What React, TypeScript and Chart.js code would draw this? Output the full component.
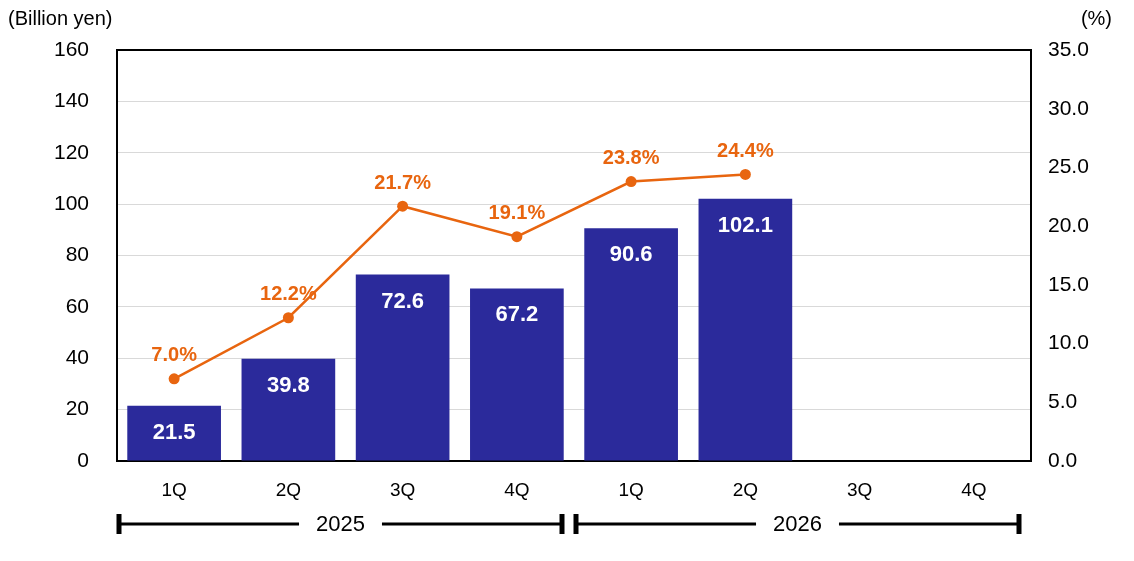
import { Chart, registerables } from "chart.js";
import { useEffect, useRef } from "react";

Chart.register(...registerables);

const QUARTERS = ["1Q", "2Q", "3Q", "4Q", "1Q", "2Q", "3Q", "4Q"];
const YEARS = ["2025", "2026"];
const PROFIT = [21.5, 39.8, 72.6, 67.2, 90.6, 102.1, null, null];
const MARGIN = [7.0, 12.2, 21.7, 19.1, 23.8, 24.4, null, null];

const BAR_COLOR = "#2B2A9B";
const LINE_COLOR = "#E8650F";
const FONT = "'Liberation Sans', Arial, sans-serif";

const decorPlugin = {
  id: "decor",
  beforeDatasetsDraw(chart: any) {
    const { ctx, chartArea: a } = chart;
    ctx.save();
    ctx.strokeStyle = "#000";
    ctx.lineWidth = 2;
    ctx.strokeRect(a.left, a.top, a.right - a.left, a.bottom - a.top);
    ctx.restore();
  },
  afterDatasetsDraw(chart: any) {
    const { ctx, chartArea: a } = chart;
    ctx.save();
    // bar values
    const barMeta = chart.getDatasetMeta(0);
    ctx.font = `bold 22px ${FONT}`;
    ctx.fillStyle = "#fff";
    ctx.textAlign = "center";
    ctx.textBaseline = "middle";
    barMeta.data.forEach((el: any, i: number) => {
      const v = PROFIT[i];
      if (v == null) return;
      ctx.fillText(v.toFixed(1), el.x, el.y + 27);
    });
    // line values
    const lineMeta = chart.getDatasetMeta(1);
    ctx.font = `bold 20px ${FONT}`;
    ctx.fillStyle = LINE_COLOR;
    lineMeta.data.forEach((el: any, i: number) => {
      const v = MARGIN[i];
      if (v == null) return;
      ctx.fillText(v.toFixed(1) + "%", el.x, el.y - 23);
    });
    // unit labels
    ctx.fillStyle = "#000";
    ctx.font = `20px ${FONT}`;
    ctx.textAlign = "left";
    ctx.fillText("(Billion yen)", 0, 11);
    ctx.textAlign = "right";
    ctx.fillText("(%)", 1104, 11);
    // year brackets
    const x = chart.scales.x;
    const step = (a.right - a.left) / QUARTERS.length;
    const y = 516;
    ctx.font = `22px ${FONT}`;
    ctx.textAlign = "center";
    ctx.strokeStyle = "#000";
    ctx.fillStyle = "#000";
    YEARS.forEach((yr, g) => {
      const start = x.left + g * 4 * step + 2;
      const end = x.left + (g + 1) * 4 * step - 12;
      const mid = (start + end) / 2;
      const half = ctx.measureText(yr).width / 2 + 17;
      ctx.lineWidth = 3;
      ctx.beginPath();
      ctx.moveTo(start, y);
      ctx.lineTo(mid - half, y);
      ctx.moveTo(mid + half, y);
      ctx.lineTo(end, y);
      ctx.stroke();
      ctx.lineWidth = 5;
      ctx.beginPath();
      ctx.moveTo(start, y - 10);
      ctx.lineTo(start, y + 10);
      ctx.moveTo(end, y - 10);
      ctx.lineTo(end, y + 10);
      ctx.stroke();
      ctx.fillText(yr, mid, y + 1);
    });
    ctx.restore();
  },
};

export default function App() {
  const canvasRef = useRef<HTMLCanvasElement | null>(null);
  useEffect(() => {
    if (!canvasRef.current) return;
    const chart = new Chart(canvasRef.current, {
      type: "bar",
      data: {
        labels: QUARTERS,
        datasets: [
          {
            type: "bar",
            data: PROFIT,
            backgroundColor: BAR_COLOR,
            barPercentage: 0.82,
            categoryPercentage: 1,
            yAxisID: "y",
            order: 1,
          },
          {
            type: "line",
            data: MARGIN,
            borderColor: LINE_COLOR,
            backgroundColor: LINE_COLOR,
            borderWidth: 2.5,
            pointRadius: 5.5,
            pointBorderWidth: 0,
            yAxisID: "y1",
            order: 0,
          } as any,
        ],
      },
      options: {
        responsive: false,
        animation: false,
        layout: { padding: { top: 42, left: 0, right: 0, bottom: 0 } },
        plugins: { legend: { display: false }, tooltip: { enabled: false } },
        scales: {
          x: {
            grid: { display: false },
            border: { display: false },
            ticks: { color: "#000", font: { family: FONT, size: 19 }, padding: 10 },
            afterFit: (s: any) => {
              s.height = 92;
            },
          },
          y: {
            position: "left",
            min: 0,
            max: 160,
            grid: { color: "#D9D9D9", drawTicks: false },
            border: { display: false },
            ticks: { stepSize: 20, color: "#000", font: { family: FONT, size: 21 }, padding: 28 },
            afterFit: (s: any) => {
              s.width = 109;
            },
          },
          y1: {
            position: "right",
            min: 0,
            max: 35,
            grid: { display: false, drawTicks: false },
            border: { display: false },
            ticks: {
              stepSize: 5,
              color: "#000",
              font: { family: FONT, size: 21 },
              padding: 17,
              callback: (v: any) => Number(v).toFixed(1),
            },
            afterFit: (s: any) => {
              s.width = 95;
            },
          },
        },
      },
      plugins: [decorPlugin],
    });
    return () => chart.destroy();
  }, []);
  return (
    <div style={{ width: 1118, height: 545 }}>
      <canvas ref={canvasRef} width={1118} height={545} />
    </div>
  );
}
